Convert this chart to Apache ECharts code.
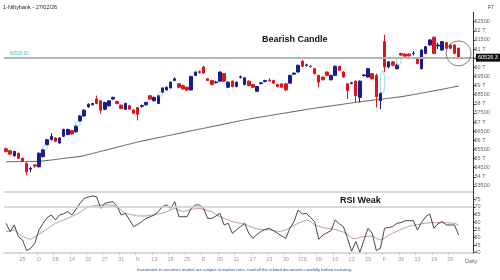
<!DOCTYPE html>
<html><head><meta charset="utf-8">
<script src="https://cdn.jsdelivr.net/npm/echarts@6/dist/echarts.min.js"></script>
<style>html,body{margin:0;padding:0;background:#fff}#c{width:500px;height:280px}</style>
</head><body><div id="c"></div>
<script>
// ---- data ----
const open  = [55537,55426,55150,55296,55019,54741,54420,54650,54556,55111,55759,56037,56130,55852,56222,56315,56537,56463,57056,57333,57833,57944,58259,58167,57704,57889,58259,58130,57926,57704,57889,57667,57796,57860,57944,58444,58167,58019,58630,58759,58870,59278,59093,59000,58907,58759,59556,59760,60019,59370,59278,59160,59241,59648,58907,59241,58944,59440,59056,59241,59056,58685,59110,59220,59300,59278,59056,59093,59093,59130,59620,59741,60333,60090,60060,59926,59556,59463,59741,59315,59556,60056,59741,59093,59110,59241,58352,59540,59463,59648,59556,58167,61407,60019,60296,59926,60759,60722,60722,60740,60481,59926,60759,61222,61648,61170,60944,61352,61222,61222,61037];
const close = [55389,55241,55389,55019,54833,54278,54470,54590,55296,55481,56037,56222,55944,56130,56593,56593,56352,56778,57333,57648,57981,58019,58019,57648,58074,58167,58352,58019,57741,58019,57704,57481,57426,57900,58074,58259,58352,58444,58870,58907,59185,59370,58907,58815,58759,59500,59741,59720,59685,59278,59056,59200,59741,59241,59185,58944,59185,59480,59426,59000,58907,58944,59150,59270,59260,59130,58944,58907,58759,59556,59680,60111,60056,60130,60030,59648,59185,59315,59556,59556,60056,59833,59463,58722,59150,58444,59241,59580,59926,59370,58389,58574,60019,60296,60111,60111,60667,60611,60630,60770,60204,60944,61130,61500,60759,61220,61407,61037,61037,60759,60526.3];
const low   = [55330,55200,55100,54980,54800,54093,54250,54500,54500,55050,55700,55990,55900,55800,56180,56280,56300,56420,57000,57300,57780,57900,57980,57463,57650,57850,58220,57980,57700,57660,57660,57440,57093,57780,57900,58220,58130,57980,58600,58720,58840,59240,58870,58780,58700,58720,59520,59650,59640,59240,59010,59100,59200,59200,58870,58900,58900,59380,59010,58960,58870,58650,59060,59180,59200,59090,58900,58870,58700,59090,59580,59700,60020,60050,59980,59610,58907,59280,59520,59280,59520,59800,59430,58259,59060,58074,58074,59500,59430,59330,57796,57704,59750,59950,60050,59880,60620,60570,60590,60650,60160,59880,60720,61180,60720,61000,60900,61000,60990,60720,60450];
const high  = [55600,55480,55430,55330,55060,54780,54560,54700,55330,55520,56080,56400,56180,56170,56640,56640,56580,56820,57380,57700,58020,58060,58450,58200,58110,58200,58390,58170,57960,58060,57930,57700,57830,57960,58110,58480,58390,58480,58900,58940,59220,59450,59130,59040,58940,59530,59780,59830,60080,59420,59310,59260,59780,59690,59220,59280,59220,59560,59460,59280,59090,58980,59200,59320,59400,59310,59090,59130,59130,59590,59720,60150,60400,60200,60120,59960,59600,59500,59780,59590,60090,60090,59780,59130,59200,59280,59280,59620,59960,59680,59650,58610,61778,60350,60350,60200,60800,60760,60760,60900,60520,60980,61170,61540,61690,61350,61440,61390,61260,61260,61080];
const movingAvg = [54830,54830,54835,54835,54840,54840,54845,54845,54850,
  54870,54895,54920,54950,54980,55010,55040,55065,55090,55111,
  55165,55220,55280,55335,55395,55450,55510,55565,55625,55680,55740,55795,55850,55905,55960,
  56005,56050,56100,56145,56190,56240,56285,56330,56380,56425,56470,56520,56565,56611,
  56655,56700,56750,56795,56840,56890,56935,56980,57030,57075,57120,57167,
  57205,57240,57280,57315,57355,57390,57430,57465,57500,57540,57575,57615,57650,57690,57722,
  57755,57790,57820,57855,57885,57915,57950,57980,58015,58045,58080,58111,
  58140,58165,58195,58220,58250,58275,58305,58330,58360,58389,
  58425,58465,58505,58545,58585,58625,58667,
  58710,58750,58795,58840,58885,58930,58972];
const rsi = [59.3,53.8,58.2,50.5,48.4,41.4,42.9,46.2,54.9,59.3,63,64.7,61.5,64.7,65.5,66.9,64.7,68.5,72.4,75.6,76.5,77.2,76.7,69.1,72.4,73,73.5,70.2,64.7,65.8,61.5,57.1,58.5,60.4,62.5,63.5,64.7,66.9,70.2,71.3,69.1,73.5,63.6,63.6,63.6,69.1,71.3,71.3,69.1,62.5,62.5,64,65.8,58.2,59.3,52.7,55,57.1,59.3,52.7,49.4,52,54,55.3,56,54.5,52.7,51,49.4,56,60.4,68,65.4,65.8,63,60.4,48.8,51.6,53,54.5,61.5,59,57.1,49.4,41,47.3,40.4,48.3,56,52.7,41.4,42.9,56,56.5,57.1,59.3,59.7,61,61,61,54.9,59.9,63.6,65.4,56,59,60.4,58.2,58.2,58.2,51.6];
const rsiSignal = [53.8,54.3,54.9,52.7,50.5,49.5,48.8,50.5,52,53.8,55.6,57.5,59.3,60.4,61.5,62.5,63.8,65,66.5,68.4,70.2,70.6,71,71.3,71.3,71.3,71,70.2,68,65.8,65.2,64.6,64.1,64.1,64.1,64.5,64.9,65.4,65.8,66.9,68,69.1,68,66.9,67.6,68.4,68.8,69.1,68.4,67.6,66.9,65.2,63.6,62.5,61.5,60.4,59.8,59.2,58.6,57.6,56.5,55.6,55.3,55.1,54.9,54.5,54,54.2,54.9,56.4,57.9,59.3,60.4,61.5,60.5,58.2,57.3,56.5,56,55.6,55.3,54.4,53.5,52,49.5,49.2,50.1,50.5,50.8,51,49.5,48.3,49.5,51.6,52.8,54,55.3,56.3,57.3,58,58.4,58.9,59.4,59.7,59.7,59.7,59.7,59.6,59.4,59.3,58.2];
const tickLabels = ['25','O','08','14','20','27','31','N','13','19','25','D','05','11','17','23','30','J26','09','16','22','29','F','09','13','19','25'];
const firstTick = 4, tickStep = 4, padBars = 3;
const lastClose = 60526.3;
// price gaps marked with cyan ellipses: between bar a and bar b, price range lo..hi
const gapMarks = [
  {a: 9, b: 10, lo: 55520, hi: 55700},
  {a: 17, b: 18, lo: 56820, hi: 57000},
  {a: 37, b: 38, lo: 58480, hi: 58600},
  {a: 91, b: 92, lo: 58610, hi: 59750},
  {a: 95, b: 96, lo: 60200, hi: 60480}
];
const circleMark = {bar: 110, price: 60760};

// ---- build ----
const nBars = open.length;
const categories = [];
for (let i = 0; i < nBars + padBars; i++) categories.push(String(i));
const ohlc = open.map((o, i) => [o, close[i], low[i], high[i]]);
const labelAt = {};
tickLabels.forEach((t, k) => { labelAt[firstTick + k * tickStep] = t; });

const FONT = '"Liberation Sans", Arial, sans-serif';
const axisLabelStyle = {color: '#666', fontSize: 5.5, fontFamily: FONT};

const option = {
  animation: false,
  backgroundColor: '#fff',
  title: [
    {text: '1-Niftybank - 27/02/26', left: 3, top: 4, padding: 0, textStyle: {fontSize: 5.5, color: '#222', fontWeight: 'normal', fontFamily: FONT}},
    {text: 'F7', left: 488, top: 5, padding: 0, textStyle: {fontSize: 5, color: '#333', fontWeight: 'normal', fontFamily: FONT}},
    {text: 'Bearish Candle', left: 262, top: 35, padding: 0, textStyle: {fontSize: 9, color: '#111', fontWeight: 'bold', fontFamily: FONT}},
    {text: 'RSI Weak', left: 340, top: 196.5, padding: 0, textStyle: {fontSize: 9, color: '#111', fontWeight: 'bold', fontFamily: FONT}},
    {text: 'Daily', left: 465, top: 258.5, padding: 0, textStyle: {fontSize: 5.5, color: '#666', fontWeight: 'normal', fontFamily: FONT}},
    {text: 'Investment in securities market are subject to market risks, read all the related documents carefully before investing.', left: 137, top: 267.5, padding: 0,
      textStyle: {fontSize: 4.2, color: '#2a4aa8', fontWeight: 'normal', fontFamily: '"Liberation Sans Narrow", "Liberation Sans", Arial, sans-serif'}}
  ],
  grid: [
    {left: 4, right: 27, top: 12.5, height: 182.6, outerBoundsMode: 'none', containLabel: false},
    {left: 4, right: 27, top: 191.7, height: 61, outerBoundsMode: 'none', containLabel: false}
  ],
  xAxis: [
    {type: 'category', gridIndex: 0, data: categories, boundaryGap: true, show: false},
    {type: 'category', gridIndex: 1, data: categories, boundaryGap: true,
      axisLine: {show: true, lineStyle: {color: '#cfcfcf', width: 1.5}},
      axisTick: {show: true, length: 2, interval: (i) => labelAt[i] !== undefined, lineStyle: {color: '#bbb'}},
      axisLabel: Object.assign({}, axisLabelStyle, {color: '#999', margin: 4,
        interval: (i) => labelAt[i] !== undefined,
        formatter: (v, i) => labelAt[i] || ''}),
      splitLine: {show: false}}
  ],
  yAxis: [
    {type: 'value', gridIndex: 0, position: 'right', min: 53000, max: 63000, interval: 500, scale: false,
      axisLine: {show: true, lineStyle: {color: '#333', width: 1}},
      axisTick: {show: true, length: 2.5, lineStyle: {color: '#333'}},
      axisLabel: Object.assign({}, axisLabelStyle, {margin: 1.5, showMinLabel: false, showMaxLabel: false,
        formatter: (v) => (v % 1000 === 0 ? (v / 1000) + ' T' : String(v))}),
      splitLine: {show: false}},
    {type: 'value', gridIndex: 1, position: 'right', min: 40, max: 80, interval: 5,
      axisLine: {show: true, lineStyle: {color: '#333', width: 1}},
      axisTick: {show: true, length: 2.5, lineStyle: {color: '#333'}},
      axisLabel: Object.assign({}, axisLabelStyle, {margin: 1.5, showMaxLabel: false}),
      splitLine: {show: false}}
  ],
  series: [
    {type: 'candlestick', xAxisIndex: 0, yAxisIndex: 0, data: ohlc, barWidth: 3,
      itemStyle: {color: '#1c1c8c', color0: '#d9161e', borderColor: '#1c1c8c', borderColor0: '#d9161e', borderWidth: 1},
      markLine: {symbol: 'none', silent: true, animation: false,
        lineStyle: {color: '#b0b0b0', width: 1.5, type: 'solid'},
        data: [
          {yAxis: lastClose, label: {show: true, position: 'insideStartTop', formatter: lastClose.toFixed(2), color: '#3cbcc8', fontSize: 4.5, fontFamily: FONT, distance: [6, 1]}},
          {yAxis: lastClose, label: {show: true, position: 'end', formatter: String(lastClose), color: '#fff', backgroundColor: '#111', fontSize: 5.5, fontFamily: FONT, padding: [1, 3, 1, 2], distance: 3}}
        ]}},
    {type: 'line', xAxisIndex: 0, yAxisIndex: 0, data: movingAvg, symbol: 'none', smooth: true,
      lineStyle: {color: '#555', width: 1}, z: 1},
    {type: 'line', xAxisIndex: 1, yAxisIndex: 1, data: rsiSignal, symbol: 'none',
      lineStyle: {color: '#c49a98', width: 1}, z: 2,
      markLine: {symbol: 'none', silent: true, animation: false, label: {show: false},
        lineStyle: {color: '#cccccc', width: 1.5, type: 'solid'},
        data: [{yAxis: 80}, {yAxis: 70}]}},
    {type: 'line', xAxisIndex: 1, yAxisIndex: 1, data: rsi, symbol: 'none',
      lineStyle: {color: '#333', width: 0.9}, z: 3}
  ]
};

const chart = echarts.init(document.getElementById('c'), null, {renderer: 'canvas'});
chart.setOption(option);

// annotations positioned from data through the chart's own scales
const px = (i, v) => chart.convertToPixel({seriesIndex: 0}, [i, v]);
function ellipsePts(cx, cy, rx, ry) {
  const pts = [];
  for (let k = 0; k < 36; k++) {
    const t = k / 36 * Math.PI * 2;
    pts.push([cx + rx * Math.cos(t), cy + ry * Math.sin(t)]);
  }
  return pts;
}
const graphics = [];
gapMarks.forEach(g => {
  const pa = px(g.a, g.lo), pb = px(g.b, g.hi);
  const cx = (pa[0] + pb[0]) / 2, cy = (pa[1] + pb[1]) / 2;
  const ry = Math.abs(pa[1] - pb[1]) / 2 + 1;
  graphics.push({type: 'polygon', silent: true, z: 10,
    shape: {points: ellipsePts(cx, cy, 2.3, ry)},
    style: {fill: null, stroke: '#6fd0dc', lineWidth: 0.8}});
});
const pc = px(circleMark.bar, circleMark.price);
graphics.push({type: 'circle', silent: true, z: 10, shape: {cx: pc[0], cy: pc[1], r: 12.5},
  style: {fill: null, stroke: '#666', lineWidth: 0.8}});
chart.setOption({graphic: graphics});
</script>
</body></html>
